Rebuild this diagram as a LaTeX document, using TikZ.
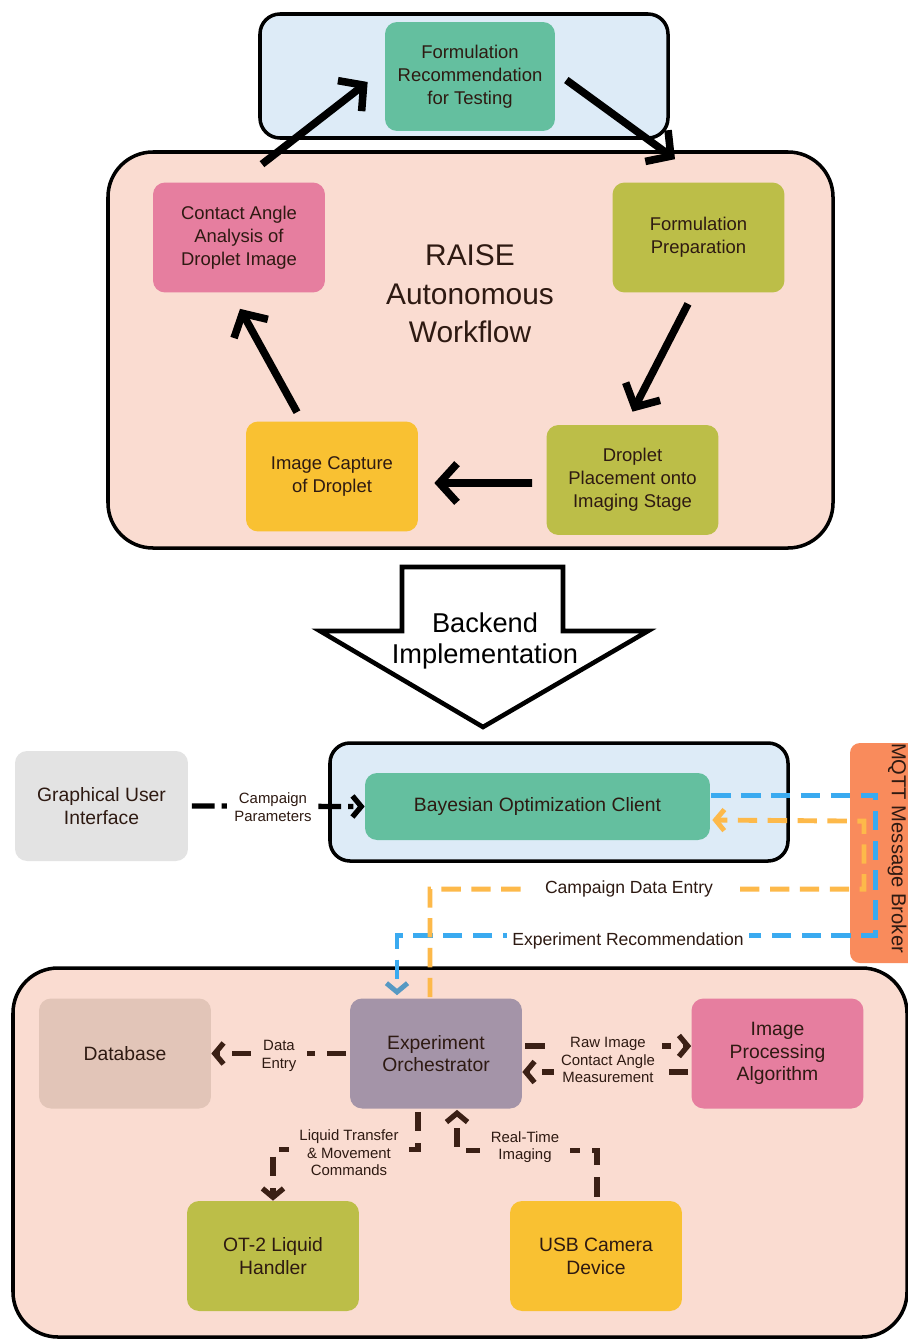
\documentclass[tikz,border=0pt]{standalone}
\usepackage{fontspec}
\setmainfont{Liberation Sans}
\usetikzlibrary{arrows.meta}

\definecolor{skyfill}{HTML}{DDEBF7}
\definecolor{peach}{HTML}{FADCD1}
\definecolor{teal}{HTML}{64BF9F}
\definecolor{rosy}{HTML}{E67E9F}
\definecolor{olive}{HTML}{BCBE48}
\definecolor{amber}{HTML}{F9C132}
\definecolor{greybox}{HTML}{E3E3E3}
\definecolor{dbfill}{HTML}{E2C5B8}
\definecolor{mauve}{HTML}{A494A8}
\definecolor{broker}{HTML}{F98B5C}
\definecolor{mqblue}{HTML}{3AAAF0}
\definecolor{mqorange}{HTML}{FDB94A}
\definecolor{cocoa}{HTML}{3B2015}
\definecolor{ink}{HTML}{2E1A12}

\begin{document}
\begin{tikzpicture}[x=0.02cm,y=-0.02cm,
  stage/.style={rounded corners=0.24cm,minimum width=3.44cm,minimum height=2.2cm,align=center,text=ink,font=\fontsize{10.5}{13}\selectfont},
  frame/.style={draw=black,line width=2pt},
  flow/.style={line width=4.3pt,-{Straight Barb[length=10pt,width=22pt]}},
  link/.style={draw=cocoa,line width=3pt,dash pattern=on 11pt off 7pt,-{Straight Barb[length=5pt,width=12pt]}},
  lbl/.style={font=\fontsize{8.5}{10}\selectfont,align=center,text=ink,inner xsep=6pt,inner ysep=1.5pt,fill=peach}]
 \useasboundingbox (0,0) rectangle (908,1339);
 \clip (0,0) rectangle (908,1339);
 \fill[white] (0,0) rectangle (908,1339);

 % top half: the workflow loop
 \draw[frame,fill=skyfill,rounded corners=0.4cm] (260,14) rectangle (668,138);
 \draw[frame,fill=peach,rounded corners=0.9cm] (108,152) rectangle (833,548);
 \node[stage,fill=teal,minimum width=3.4cm,minimum height=2.18cm] (formrec) at (470,76.5) {Formulation\\Recommendation\\for Testing};
 \node[stage,fill=rosy] (contact) at (239,237.5) {Contact Angle\\Analysis of\\Droplet Image};
 \node[stage,fill=olive] (prep) at (698.5,237.5) {Formulation\\Preparation};
 \node[stage,fill=amber] (capture) at (332,476.5) {Image Capture\\of Droplet};
 \node[stage,fill=olive] (place) at (632.5,480) {Droplet\\Placement onto\\Imaging Stage};
 \node[align=center,text=ink,font=\fontsize{17}{22}\selectfont] (raise) at (470,294) {RAISE\\Autonomous\\Workflow};
 \draw[flow] ([shift={(23,-18)}]contact.north) -- ([shift={(-17,5.5)}]formrec.west);
 \draw[flow] ([shift={(11,3.5)}]formrec.east) -- ([shift={(-23.5,-23)}]prep.north);
 \draw[flow] ([shift={(-10.5,11)}]prep.south) -- ([shift={(0,-13)}]place.north);
 \draw[flow] ([shift={(-14,3)}]place.west) -- ([shift={(16,6.5)}]capture.east);
 \draw[flow] ([shift={(-35,-9)}]capture.north) -- ([shift={(1,16)}]contact.south);

 % the big arrow down
 \draw[line width=2.6pt,fill=white] (402,567) -- (563,567) -- (563,631) -- (648,631) -- (483,727) -- (320,631) -- (402,631) -- cycle;
 \node[align=center,font=\fontsize{15.5}{18}\selectfont] (backend) at (485,641) {Backend\\Implementation};

 % bottom half: the backend
 \draw[frame,fill=skyfill,rounded corners=0.4cm] (330,743) rectangle (788,861);
 \fill[broker,rounded corners=0.2cm] (850,743) rectangle (940,963);
 \node[rotate=-90,font=\fontsize{11.5}{13}\selectfont,text=ink] (mqtt) at (897,848) {MQTT Message Broker};
 \node[stage,fill=greybox,minimum width=3.46cm,font=\fontsize{11}{13}\selectfont] (gui) at (101.5,806) {Graphical User\\Interface};
 \node[stage,fill=teal,minimum width=6.9cm,minimum height=1.34cm,font=\fontsize{11}{13}\selectfont] (bayes) at (537.5,806.5) {Bayesian Optimization Client};
 \draw[frame,fill=peach,rounded corners=0.9cm] (13,968) rectangle (907,1337);
 \node[stage,fill=dbfill,font=\fontsize{11}{13}\selectfont] (database) at (125,1053.5) {Database};
 \node[stage,fill=mauve,font=\fontsize{11}{13}\selectfont] (orch) at (436,1053.5) {Experiment\\Orchestrator};
 \node[stage,fill=rosy,font=\fontsize{11}{13}\selectfont] (imgproc) at (777.5,1053.5) {Image\\Processing\\Algorithm};
 \node[stage,fill=olive,font=\fontsize{11}{13}\selectfont] (ot2) at (273,1256) {OT-2 Liquid\\Handler};
 \node[stage,fill=amber,font=\fontsize{11}{13}\selectfont] (usb) at (596,1256) {USB Camera\\Device};

 \draw[black,line width=3pt,dash pattern=on 13pt off 4pt on 3pt off 4pt,-{Straight Barb[length=5pt,width=12pt]}] ([xshift=2pt]gui.east) -- (bayes.west);
 \node[lbl,fill=white,inner xsep=3pt] (params) at (273,807) {Campaign\\Parameters};

 \draw[mqblue,line width=2.8pt,dash pattern=on 11pt off 6pt,-{Straight Barb[length=5pt,width=12pt,color=mqblue!60!gray]}] ([shift={(1,-11)}]bayes.east) -- ++(164,0) -- ++(0,140) -| ([shift={(-39,-3)}]orch.north);
 \draw[mqorange,line width=2.8pt,dash pattern=on 11pt off 6pt,-{Straight Barb[length=5pt,width=12pt]}] ([shift={(-6,-1)}]orch.north) -- ++(0,-108) -| ++(434,-68) -- ([shift={(2,13.5)}]bayes.east);
 \node[lbl,fill=white,font=\fontsize{10}{12}\selectfont,inner xsep=11pt] (cde) at (629,889) {Campaign Data Entry};
 \node[lbl,fill=white,font=\fontsize{10}{12}\selectfont,inner xsep=3pt] (exprec) at (628,941) {Experiment Recommendation};

 \draw[link] ([xshift=-2pt]orch.west) -- (database.east);
 \node[lbl] (dataentry) at (279,1056) {Data\\Entry};
 \draw[link] ([shift={(3,-7.5)}]orch.east) -- ([shift={(0,-7.5)}]imgproc.west);
 \draw[link] ([shift={(-3,18.5)}]imgproc.west) -- ([shift={(0,18.5)}]orch.east);
 \node[lbl,inner xsep=4pt] (rawimg) at (608,1060) {Raw Image\\Contact Angle\\Measurement};
 \draw[link] ([shift={(-18,3)}]orch.south) -- ++(0,38) -| (ot2.north);
 \node[lbl] (liquid) at (349,1153) {Liquid Transfer\\\& Movement\\Commands};
 \draw[link] ([shift={(1,-4)}]usb.north) -- ++(0,-46) -| ([shift={(21,1)}]orch.south);
 \node[lbl] (realtime) at (525,1147) {Real-Time\\Imaging};
\end{tikzpicture}
\end{document}
